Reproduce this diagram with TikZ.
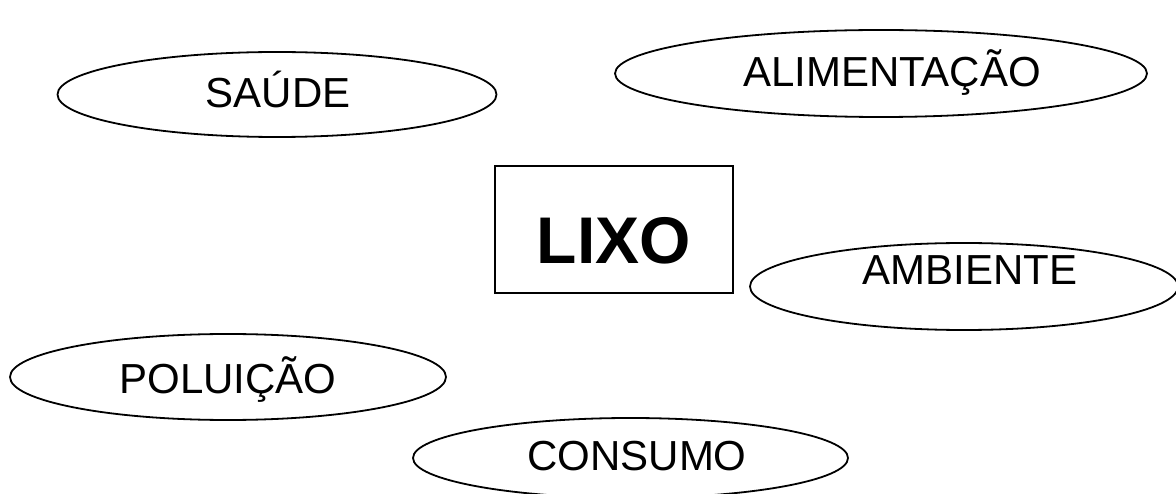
\documentclass[tikz,border=0pt]{standalone}
\usepackage{fontspec}
\setmainfont{Liberation Sans}
\usetikzlibrary{shapes.geometric}
\begin{document}
\begin{tikzpicture}[x=1pt,y=-1pt,
  oval/.style={ellipse, draw, line width=1.8pt, inner sep=0pt},
  lbl/.style={font=\fontsize{42}{50}\selectfont, text height=30pt, text depth=0pt, inner sep=0pt},
  big/.style={font=\bfseries\fontsize{66}{78}\selectfont, text height=47pt, text depth=0pt, inner sep=0pt}]
\useasboundingbox (0,0) rectangle (1176,494);
\clip (0,0) rectangle (1176,494);
% shapes
\node[oval, minimum width=439pt, minimum height=85pt] (saude) at (277,94.5) {};
\node[oval, minimum width=532pt, minimum height=87pt] (alim) at (881,73.5) {};
\node[oval, minimum width=428pt, minimum height=87pt] (amb) at (964,286.5) {};
\node[oval, minimum width=436pt, minimum height=86pt] (polu) at (228,377) {};
\node[oval, minimum width=435pt, minimum height=80pt] (cons) at (630.5,458) {};
\node[draw, line width=1.4pt, minimum width=238pt, minimum height=127pt, inner sep=0pt] (lixo) at (614,229.5) {};
% labels
\node[lbl] (tsaude) at (278,93) {SAÚDE};
\node[lbl] (talim) at (892,72) {ALIMENTAÇÃO};
\node[lbl] (tamb) at (970,270) {AMBIENTE};
\node[lbl] (tpolu) at (228,378) {POLUIÇÃO};
\node[lbl] (tcons) at (637,455) {CONSUMO};
\node[big] (tlixo) at (614,240) {LIXO};
\end{tikzpicture}
\end{document}
